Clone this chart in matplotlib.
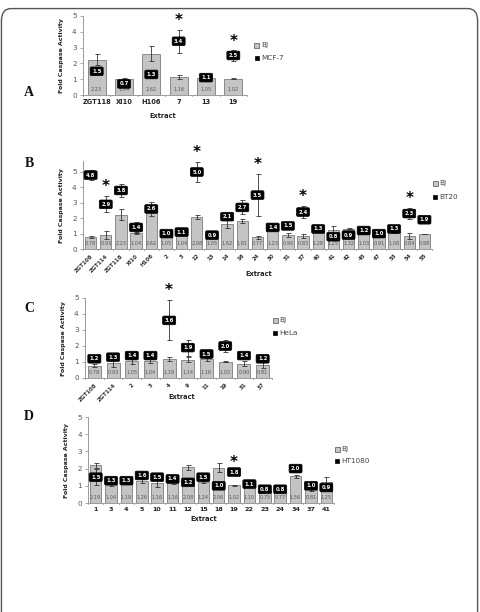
import matplotlib
matplotlib.use("Agg")
import matplotlib.pyplot as plt
from matplotlib.patches import FancyBboxPatch, Rectangle

# ---------------- data ----------------
# Panel A
a_cats = ["ZGT118", "XI10", "H106", "7", "13", "19"]
a_bj = [2.23, 1.04, 2.62, 1.16, 1.05, 1.02]
a_bj_err = [0.35, 0.03, 0.48, 0.13, 0.05, 0.03]
a_cell = [1.5, 0.7, 1.3, 3.4, 1.1, 2.5]
a_cell_err = [0.0, 0.1, 0.0, 0.72, 0.05, 0.32]
a_star = ["7", "19"]

# Panel B
b_cats = ["ZGT108", "ZGT114", "ZGT118", "XI10", "H106", "2", "3", "12", "13", "14",
          "16", "24", "30", "31", "37", "40", "41", "42", "45", "47", "53", "54", "55"]
b_bj = [0.78, 0.93, 2.23, 1.04, 2.62, 1.05, 1.04, 2.08, 1.05, 1.62,
        1.81, 0.77, 1.23, 0.90, 0.83, 1.28, 1.25, 1.32, 1.03, 0.91, 1.08, 0.84, 0.98]
b_bj_err = [0.06, 0.25, 0.35, 0.05, 0.45, 0.05, 0.05, 0.15, 0.05, 0.25,
            0.12, 0.10, 0.05, 0.12, 0.12, 0.05, 0.25, 0.04, 0.05, 0.05, 0.05, 0.20, 0.02]
b_cell = [4.8, 2.9, 3.8, 1.4, 2.6, 1.0, 1.1, 5.0, 0.9, 2.1,
          2.7, 3.5, 1.4, 1.5, 2.4, 1.3, 0.8, 0.9, 1.2, 1.0, 1.3, 2.3, 1.9]
b_cell_err = [0.3, 0.52, 0.4, 0.38, 0.0, 0.0, 0.0, 0.67, 0.1, 0.15,
              0.45, 1.35, 0.0, 0.0, 0.4, 0.0, 0.0, 0.0, 0.0, 0.0, 0.0, 0.38, 0.0]
b_star = ["ZGT114", "12", "24", "37", "54"]

# Panel C
c_cats = ["ZGT108", "ZGT114", "2", "3", "4", "9", "11", "19", "31", "37"]
c_bj = [0.78, 0.93, 1.05, 1.04, 1.19, 1.14, 1.16, 1.02, 0.90, 0.81]
c_bj_err = [0.08, 0.25, 0.15, 0.12, 0.15, 0.15, 0.10, 0.04, 0.15, 0.20]
c_cell = [1.2, 1.3, 1.4, 1.4, 3.6, 1.9, 1.5, 2.0, 1.4, 1.2]
c_cell_err = [0.0, 0.0, 0.0, 0.0, 1.25, 0.5, 0.0, 0.38, 0.0, 0.0]
c_star = ["4"]

# Panel D
d_cats = ["1", "3", "4", "5", "10", "11", "12", "15", "18", "19", "22", "23", "24", "34", "37", "41"]
d_bj = [2.19, 1.04, 1.19, 1.26, 1.16, 1.16, 2.08, 1.24, 2.06, 1.02, 1.10, 0.75, 0.77, 1.56, 0.81, 1.25]
d_bj_err = [0.15, 0.05, 0.05, 0.12, 0.25, 0.08, 0.15, 0.05, 0.25, 0.03, 0.05, 0.03, 0.03, 0.08, 0.10, 0.25]
d_cell = [1.5, 1.3, 1.3, 1.6, 1.5, 1.4, 1.2, 1.5, 1.0, 1.8, 1.1, 0.8, 0.8, 2.0, 1.0, 0.9]
d_cell_err = [0.45, 0.0, 0.0, 0.1, 0.1, 0.05, 0.0, 0.0, 0.0, 0.0, 0.0, 0.0, 0.0, 0.2, 0.0, 0.0]
d_star = ["19"]

# ---------------- drawing ----------------
W, H = 480, 612
fig = plt.figure(figsize=(W / 100, H / 100), dpi=100)
fig.patch.set_facecolor("white")

# outer rounded frame
frame = FancyBboxPatch((0.003, -0.05), 0.992, 1.036, boxstyle="round,pad=0,rounding_size=0.02",
                       transform=fig.transFigure, fc="none", ec="#555555", lw=1.0)
fig.add_artist(frame)

BAR_FC = "#c4c4c4"
BAR_EC = "#8a8a8a"
AX_C = "#9a9a9a"


def px_axes(left, right, y0, y5, ymax=5.0):
    unit = (y0 - y5) / 5.0
    top = y0 - ymax * unit
    return fig.add_axes([left / W, 1 - y0 / H, (right - left) / W, (y0 - top) / H])


def panel(ax, cats, bj, bj_err, cell, cell_err, stars, ymax, rotate, tickfs, barw,
          boxfs=3.8, valfs=3.6):
    x = list(range(len(cats)))
    ax.bar(x, bj, width=barw, color=BAR_FC, edgecolor=BAR_EC, linewidth=0.7, zorder=2)
    ax.errorbar(x, bj, yerr=bj_err, fmt="none", ecolor="#333333", elinewidth=0.6,
                capsize=1.8, capthick=0.6, zorder=3)
    ax.errorbar(x, cell, yerr=cell_err, fmt="none", ecolor="#333333", elinewidth=0.6,
                capsize=1.8, capthick=0.6, zorder=3)
    for xi, v in zip(x, bj):
        ax.text(xi, 0.33, f"{v:.2f}", ha="center", va="center", fontsize=valfs,
                color="#555555", zorder=4)
    for xi, v in zip(x, cell):
        ax.text(xi, v, f"{v:.1f}", ha="center", va="center", fontsize=boxfs,
                color="white", fontweight="bold", zorder=5,
                bbox=dict(boxstyle="round,pad=0.35,rounding_size=0.25", fc="black", ec="black", lw=0.5))
    for c in stars:
        i = cats.index(c)
        top = max(cell[i] + cell_err[i], bj[i] + bj_err[i])
        ax.text(i, top + 0.12, "*", ha="center", va="bottom", fontsize=11,
                fontweight="bold", color="black", zorder=5)
    ax.set_xlim(-0.5, len(cats) - 0.5)
    ax.set_ylim(0, ymax)
    ax.set_yticks([0, 1, 2, 3, 4, 5])
    ax.set_xticks(x)
    if rotate:
        ax.set_xticklabels(cats, rotation=45, ha="right", rotation_mode="anchor",
                           fontsize=tickfs, color="#333333", fontweight="bold")
    else:
        ax.set_xticklabels(cats, fontsize=tickfs, color="#222222", fontweight="bold")
    ax.tick_params(axis="y", labelsize=5.2, labelcolor="#555555", length=2.5,
                   width=0.6, color=AX_C, pad=2)
    ax.tick_params(axis="x", length=0, pad=3)
    # category separator ticks (Excel style)
    for k in range(len(cats) + 1):
        ax.plot([k - 0.5, k - 0.5], [0, -0.08 * ymax / 5], color=AX_C, lw=0.6,
                clip_on=False, zorder=1)
    for s in ["top", "right"]:
        ax.spines[s].set_visible(False)
    for s in ["left", "bottom"]:
        ax.spines[s].set_color(AX_C)
        ax.spines[s].set_linewidth(0.7)
    ax.set_facecolor("none")
    ax.set_ylabel("Fold Caspase Activity", fontsize=4.5, fontweight="bold",
                  color="#222222", labelpad=6)


def legend(xpx, ypx1, ypx2, name):
    fig.add_artist(Rectangle(((xpx - 2.5) / W, 1 - (ypx1 + 2.5) / H), 5 / W, 5 / H,
                             transform=fig.transFigure, fc=BAR_FC, ec="#666666", lw=0.6))
    fig.text((xpx + 4) / W, 1 - ypx1 / H, "BJ", fontsize=5.2, color="#444444",
             va="center", ha="left")
    fig.add_artist(Rectangle(((xpx - 2) / W, 1 - (ypx2 + 2) / H), 4 / W, 4 / H,
                             transform=fig.transFigure, fc="black", ec="black", lw=0.5))
    fig.text((xpx + 4) / W, 1 - ypx2 / H, name, fontsize=5.2, color="#444444",
             va="center", ha="left")


def extract_label(xpx, ypx):
    fig.text(xpx / W, 1 - ypx / H, "Extract", fontsize=4.8, fontweight="bold",
             color="#222222", ha="center", va="center")


def letter(ypx, s):
    fig.text(29 / W, 1 - ypx / H, s, fontsize=10, fontweight="bold",
             family="Liberation Serif", color="#111111", ha="center", va="center")


# Panel A
axA = px_axes(83, 247, 95, 16, 5.0)
panel(axA, a_cats, a_bj, a_bj_err, a_cell, a_cell_err, a_star, 5.0, False, 4.8, 0.65)
legend(257, 45, 58, "MCF-7")
extract_label(163, 116)
letter(93, "A")

# Panel B
axB = px_axes(83, 432, 249, 172, 5.7)
panel(axB, b_cats, b_bj, b_bj_err, b_cell, b_cell_err, b_star, 5.7, True, 4.0, 0.75)
legend(435, 183, 197, "BT20")
extract_label(259, 274)
letter(164, "B")

# Panel C
axC = px_axes(85, 272, 378, 298, 5.0)
panel(axC, c_cats, c_bj, c_bj_err, c_cell, c_cell_err, c_star, 5.0, True, 4.0, 0.7)
legend(275, 320, 333, "HeLa")
extract_label(182, 397)
letter(308, "C")

# Panel D
axD = px_axes(88, 334, 503, 417, 5.0)
panel(axD, d_cats, d_bj, d_bj_err, d_cell, d_cell_err, d_star, 5.0, False, 4.6, 0.75)
legend(337, 449, 461, "HT1080")
extract_label(204, 519)
letter(417, "D")

fig.savefig("out.png", dpi=100)
